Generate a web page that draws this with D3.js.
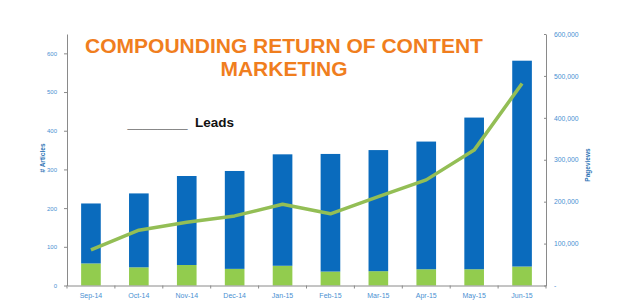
<!DOCTYPE html>
<html><head><meta charset="utf-8">
<script src="https://cdn.jsdelivr.net/npm/d3@7"></script>
<style>body{margin:0;background:#fff}svg{display:block;font-family:"Liberation Sans",Arial,sans-serif}</style>
</head><body><svg id="c" width="617" height="305"></svg>
<script>
const months = ["Sep-14","Oct-14","Nov-14","Dec-14","Jan-15","Feb-15","Mar-15","Apr-15","May-15","Jun-15"];
const newArticles = [57,47,53,43,51,36,37,42,42,49];
const totalArticles = [212,238,283,296,339,340,350,372,434,581];
const pageviews = [85000,132000,151000,166000,194000,171000,212000,252000,323000,482000];
const leftTicks = [0,100,200,300,400,500,600];
const rightTicks = [0,100000,200000,300000,400000,500000,600000];

const svg = d3.select("#c");
const x = d3.scaleBand().domain(months).range([67,546]).paddingInner(0.59).paddingOuter(0.295);
const yL = d3.scaleLinear().domain([0,650]).range([285.5,34]);
const yR = d3.scaleLinear().domain([0,600000]).range([285.5,34]);
const blue="#0A6BBD", green="#92CC4E", lineGreen="#93BE55", axisCol="#8a8a8a", lblCol="#4A90D2";

// bars: stacked green (new) + blue (rest)
const rows = months.map((m,i)=>({m, g:newArticles[i], b:totalArticles[i]-newArticles[i]}));
const stack = d3.stack().keys(["g","b"])(rows);
const cols = {g:green,b:blue};
svg.append("g").selectAll("g").data(stack).join("g").attr("fill",d=>cols[d.key])
  .selectAll("rect").data(d=>d).join("rect")
  .attr("x",d=>x(d.data.m)).attr("width",x.bandwidth())
  .attr("y",d=>yL(d[1])).attr("height",d=>yL(d[0])-yL(d[1]));

// line
const line = d3.line().x((d,i)=>x(months[i])+x.bandwidth()/2).y(d=>yR(d));
svg.append("path").datum(pageviews).attr("d",line).attr("fill","none")
  .attr("stroke",lineGreen).attr("stroke-width",3.5).attr("stroke-linejoin","round");

// left axis
const gl = svg.append("g").attr("transform","translate(67,0)")
  .call(d3.axisLeft(yL).tickValues(leftTicks).tickSize(3).tickPadding(7).tickSizeOuter(0));
gl.select(".domain").attr("stroke",axisCol);
gl.selectAll(".tick line").attr("stroke",axisCol);
gl.selectAll("text").attr("fill",lblCol).attr("font-size",6).attr("font-family","Liberation Sans, Arial");

// right axis
const gr = svg.append("g").attr("transform","translate(546,0)")
  .call(d3.axisRight(yR).tickValues(rightTicks).tickSize(-2).tickPadding(8).tickSizeOuter(0)
  .tickFormat(d=>d===0?"-":d3.format(",")(d)));
gr.select(".domain").attr("stroke",axisCol);
gr.selectAll(".tick line").attr("stroke",axisCol);
gr.selectAll("text").attr("fill",lblCol).attr("font-size",6.8).attr("font-family","Liberation Sans, Arial");

// bottom axis
const gb = svg.append("g").attr("transform","translate(0,285.5)")
  .call(d3.axisBottom(x).tickSize(0).tickPadding(8).tickSizeOuter(0));
gb.select(".domain").attr("stroke",axisCol);
gb.selectAll("text").attr("fill",lblCol).attr("font-size",7).attr("font-family","Liberation Sans, Arial");
svg.append("g").selectAll("line").data(d3.range(months.length+1)).join("line")
  .attr("x1",i=>67+i*x.step()).attr("x2",i=>67+i*x.step()).attr("y1",285.5).attr("y2",288.5)
  .attr("stroke",axisCol);

// axis titles
svg.append("text").attr("transform","translate(44.5,158) rotate(-90)").attr("text-anchor","middle")
  .attr("fill","#2E75B6").attr("font-size",6.5).attr("font-weight","bold").text("# Articles");
svg.append("text").attr("transform","translate(590,165) rotate(-90)").attr("text-anchor","middle")
  .attr("fill","#2E75B6").attr("font-size",6.5).attr("font-weight","bold").text("Pageviews");

// title
const tt = svg.append("text").attr("text-anchor","middle").attr("fill","#F07E1E")
  .attr("font-size",21).attr("font-weight","bold").attr("font-family","Liberation Sans, Arial");
tt.append("tspan").attr("x",284).attr("y",52.7).text("COMPOUNDING RETURN OF CONTENT");
tt.append("tspan").attr("x",284).attr("y",75.7).text("MARKETING");

// legend text
svg.append("text").attr("x",127.5).attr("y",127.3).attr("font-size",13.5).attr("fill","#777")
  .text("________");
svg.append("text").attr("x",195).attr("y",127.3).attr("font-size",13.5).attr("font-weight","bold")
  .attr("fill","#111").text("Leads");
</script></body></html>
